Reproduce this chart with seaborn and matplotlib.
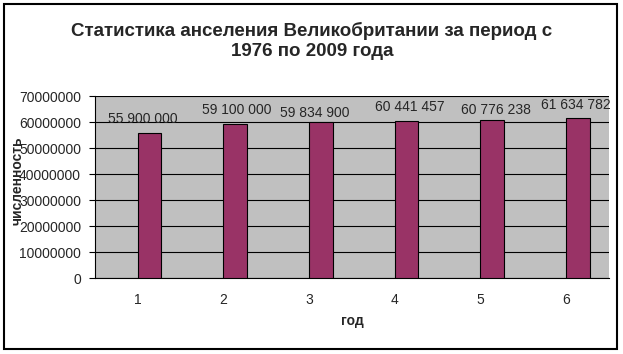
import numpy as np
import pandas as pd
import seaborn as sns
import matplotlib.pyplot as plt
from matplotlib.patches import Rectangle

# Data
years = ['1', '2', '3', '4', '5', '6']
population = [55900000, 59100000, 59834900, 60441457, 60776238, 61634782]
value_labels = ['55 900 000', '59 100 000', '59 834 900', '60 441 457', '60 776 238', '61 634 782']
yticks = [0, 10000000, 20000000, 30000000, 40000000, 50000000, 60000000, 70000000]

# label offsets from bar tops (points), as in the original Excel layout
label_dy = [9.9, 10.3, 6.8, 10.0, 7.2, 9.2]
label_dx = [-4.7, 0.7, -4.3, 2.2, 2.9, -1.4]

# the Excel chart had an empty first series, so the bars sit right of centre
df = pd.DataFrame({
    'year': years * 2,
    'population': [np.nan] * len(years) + population,
    'series': ['empty'] * len(years) + ['pop'] * len(years),
})

sns.set_style('white')
plt.rcParams['font.family'] = ['Liberation Sans', 'DejaVu Sans']

fig = plt.figure(figsize=(6.23, 3.54), dpi=100)
ax = fig.add_axes([95 / 623, 1 - 278 / 354, (609 - 95) / 623, (278 - 96) / 354])
ax.set_facecolor('#C0C0C0')

sns.barplot(data=df, x='year', y='population', hue='series', hue_order=['empty', 'pop'],
            palette={'empty': '#C0C0C0', 'pop': '#993366'}, width=0.55, dodge=True,
            edgecolor='black', linewidth=0.8, saturation=1, ax=ax, zorder=3, legend=False)

ax.set_ylim(0, 70000000)
ax.set_yticks(yticks)
ax.set_yticklabels([str(t) for t in yticks], fontsize=10)
ax.yaxis.grid(True, color='black', linewidth=0.8, zorder=0)
ax.set_axisbelow(True)

# category boundary ticks like Excel
ax.set_xlim(-0.5, len(years) - 0.5)
ax.set_xticks(np.arange(len(years)))
ax.set_xticklabels(years, fontsize=10)
ax.tick_params(axis='x', length=0, pad=11)
ax.set_xticks(np.arange(len(years) + 1) - 0.5, minor=True)
ax.tick_params(axis='x', which='minor', length=4, width=0.8, color='black', direction='out')
ax.tick_params(axis='y', length=4, width=0.8, color='black', direction='out', left=True, pad=6)

for s in ['top', 'right']:
    ax.spines[s].set_visible(False)
ax.spines['left'].set_color('black')
ax.spines['bottom'].set_color('black')
ax.spines['left'].set_linewidth(0.8)
ax.spines['bottom'].set_linewidth(0.8)

bars = [p for p in ax.patches if np.isfinite(p.get_height()) and p.get_height() > 0]
bars.sort(key=lambda p: p.get_x())
for i, (bar, lab) in enumerate(zip(bars, value_labels)):
    ax.annotate(lab, (bar.get_x() + bar.get_width() / 2, bar.get_height()),
                xytext=(label_dx[i], label_dy[i]), textcoords='offset points',
                ha='center', va='center', fontsize=10, zorder=4)

ax.set_xlabel('год', fontsize=10, fontweight='bold', labelpad=5)
ax.set_ylabel('численность', fontsize=10, fontweight='bold')
ax.yaxis.set_label_coords(-0.138, 0.533)

fig.text(312 / 623, 1 - 41 / 354, 'Статистика анселения Великобритании за период с\n1976 по 2009 года',
         ha='center', va='center', fontsize=13.5, fontweight='bold', linespacing=1.17)

# outer chart frame
fig.patches.append(Rectangle((4 / 623, 1 - 349 / 354), (617 - 4) / 623, (349 - 4) / 354,
                             transform=fig.transFigure, fill=False, edgecolor='black', linewidth=1.5))

fig.savefig('out.png', dpi=100)
